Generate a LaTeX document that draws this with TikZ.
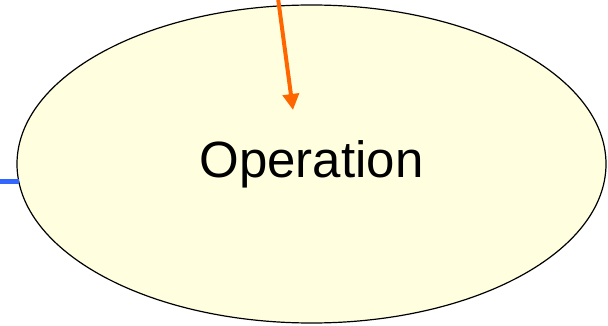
\documentclass[tikz,border=0pt]{standalone}
\usepackage{fontspec}
\setmainfont{Liberation Sans}
\usepackage{xcolor}
\usepackage{tikz}
\usetikzlibrary{positioning, arrows.meta, calc, shapes.geometric}
\definecolor{opfill}{HTML}{FFFFE0}
\definecolor{oparrow}{HTML}{FF6600}
\definecolor{opblue}{HTML}{3366FF}

\begin{document}
\begin{tikzpicture}[x=1pt, y=-1pt]
    \useasboundingbox (0,0) rectangle (608,326);
    \node[ellipse, fill=opfill, draw=black, line width=1.2pt, inner sep=0pt,
          minimum width=589pt, minimum height=318pt,
          font=\fontsize{51}{60}\selectfont] (op) at (311.5,164) {Operation};
    % incoming lines
    \coordinate (topin) at (278,-2);
    \coordinate (tip) at (293,110);
    \coordinate (leftin) at (-2,182);
    \coordinate (leftend) at (18.5,182);
    \draw[oparrow, line width=4pt, -{Triangle[length=16pt, width=16pt]}] (topin) -- (tip);
    \draw[opblue, line width=5pt] (leftin) -- (leftend);
  \end{tikzpicture}
\end{document}
